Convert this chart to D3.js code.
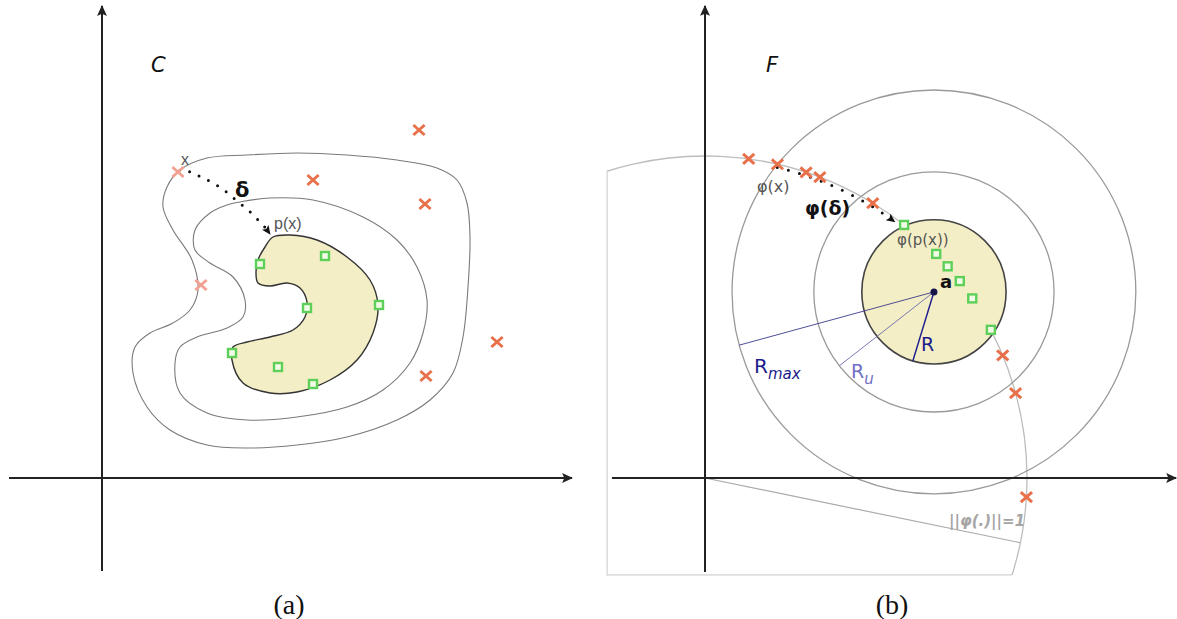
<!DOCTYPE html>
<html><head><meta charset="utf-8">
<script src="https://cdn.jsdelivr.net/npm/d3@7"></script>
<style>body{margin:0;background:#fff}svg{display:block}</style>
</head><body>
<svg id="c" width="1177" height="619"></svg>
<script>
// ---------- DATA (left panel, units relative to origin) ----------
const kidney = [[171,241],[188,243],[215,238],[245,221],[268,198],[276,173],[271,145],[255,118],[228,98],[195,86],[168,85],[141,95],[130,118],[131,131],[145,136],[168,141],[191,148],[203,161],[205,176],[198,190],[185,195],[168,192],[156,195],[154,205],[156,218],[163,231]];
const contourMid = [[138,276],[168,280],[211,278],[261,261],[295,238],[315,211],[325,178],[321,145],[308,115],[281,88],[245,71],[195,61],[145,58],[105,65],[78,85],[73,115],[78,131],[95,141],[125,150],[141,161],[143,178],[131,201],[108,215],[93,228],[93,248],[108,265],[125,273]];
const contourOut = [[105,320],[145,323],[195,325],[245,323],[295,318],[335,310],[355,298],[365,275],[368,241],[366,191],[361,141],[351,105],[328,78],[295,58],[245,41],[195,33],[145,30],[105,33],[68,48],[45,71],[31,105],[33,131],[48,145],[71,155],[88,168],[96,188],[90,218],[71,248],[61,271],[65,291],[78,308]];
const outliersL = [[317,348],[211,298],[323,274],[395,136],[324,102]];
const outliersLightL = [[76,306],[99,193]];
const inliersL = [[158,214],[223,222],[205,170],[277,173],[130,125],[176,111],[211,94]];
const deltaPath = [[77,307],[89,306],[99,301],[109,296],[119,290],[128,283],[136,276],[145,269],[153,261],[161,253],[168,244]];

// ---------- DATA (right panel, unit-circle coordinates) ----------
const centerA = [0.711, 0.578];
const radii = {R: 0.224, Ru: 0.373, Rmax: 0.627};
const radiusAngles = {R: 253, Ru: 218, Rmax: 195.3};
const outlierAnglesR = [82.2, 77.0, 71.7, 69.1, 58.6, 22.4, 15.3, -3.4];
const inlierAnglesR = [51.8, 44.1, 41.1, 37.7, 33.9, 27.4];
const dottedArcR = {from: 76.9, to: 53.5, r: 0.99};
const unitLineAngle = -11.6;
const captions = ["(a)", "(b)"];

const svg = d3.select("#c");
const rad = d => d*Math.PI/180;

// ---------- scales ----------
const xL = d3.scaleLinear().domain([0, 470]).range([102, 572]);
const yL = d3.scaleLinear().domain([0, 472]).range([478, 6]);
const xR = d3.scaleLinear().domain([0, 1]).range([705, 1027]);
const yR = d3.scaleLinear().domain([0, 1]).range([478, 156]);

// markers
const defs = svg.append("defs");
function arrowMarker(id, color, w, h){
  defs.append("marker").attr("id", id).attr("viewBox","0 -5 10 10")
    .attr("refX",9).attr("refY",0).attr("markerWidth",w).attr("markerHeight",h)
    .attr("markerUnits","userSpaceOnUse").attr("orient","auto")
    .append("path").attr("d","M0,-4.5L10,0L0,4.5L2,0Z").attr("fill",color);
}
arrowMarker("ax","#222",11,11);
arrowMarker("dt","#111",9,9);

defs.append("clipPath").attr("id","clipR").append("rect")
  .attr("x", xR(-0.304)).attr("y", 0).attr("width", 1177-xR(-0.304)).attr("height", yR(-0.301));

// ---------- LEFT PANEL ----------
const gL = svg.append("g");
const lineL = d3.line().x(d=>xL(d[0])).y(d=>yL(d[1])).curve(d3.curveCatmullRomClosed.alpha(0.5));
gL.append("path").attr("d", lineL(contourOut)).attr("fill","none").attr("stroke","#7a7a7a").attr("stroke-width",1.1);
gL.append("path").attr("d", lineL(contourMid)).attr("fill","none").attr("stroke","#7a7a7a").attr("stroke-width",1.1);
gL.append("path").attr("d", lineL(kidney)).attr("fill","#f4eec6").attr("stroke","#333").attr("stroke-width",1.4);

gL.append("line").attr("x1",xL(-93)).attr("x2",xL(470)).attr("y1",yL(0)).attr("y2",yL(0))
  .attr("stroke","#222").attr("stroke-width",2).attr("marker-end","url(#ax)");
gL.append("line").attr("x1",xL(0)).attr("x2",xL(0)).attr("y1",yL(-93)).attr("y2",yL(472))
  .attr("stroke","#222").attr("stroke-width",2).attr("marker-end","url(#ax)");

const openLine = d3.line().x(d=>xL(d[0])).y(d=>yL(d[1])).curve(d3.curveCatmullRom);
gL.append("path").attr("d", openLine(deltaPath)).attr("fill","none").attr("stroke","#111")
  .attr("stroke-width",3).attr("stroke-linecap","round").attr("stroke-dasharray","0,10.5")
  .attr("marker-end","url(#dt)");

const xPath = "M-4.5,-4L4.5,4M-4.5,4L4.5,-4";
function drawX(g, pts, sx, sy, color){
  g.selectAll(null).data(pts).join("path").attr("d", xPath)
    .attr("transform", d=>`translate(${sx(d[0])},${sy(d[1])})`)
    .attr("stroke", color).attr("stroke-width",3).attr("fill","none").attr("stroke-linecap","square");
}
function drawSq(g, pts, sx, sy){
  g.selectAll(null).data(pts).join("rect")
    .attr("x", d=>sx(d[0])-4).attr("y", d=>sy(d[1])-4).attr("width",8).attr("height",8)
    .attr("fill","#f2fbe6").attr("stroke","#5ed05a").attr("stroke-width",2.4);
}
drawX(gL, outliersL, xL, yL, "#e8714b");
drawX(gL, outliersLightL, xL, yL, "#f2a292");
drawSq(gL, inliersL, xL, yL);

gL.append("text").attr("x",xL(79)).attr("y",yL(313)).text("x")
  .attr("font-family","Liberation Sans, Arial").attr("font-size",16).attr("fill","#555");
gL.append("text").attr("x",xL(133)).attr("y",yL(281)).text("δ")
  .attr("font-family","DejaVu Sans").attr("font-size",21).attr("font-weight","bold").attr("fill","#111");
gL.append("text").attr("x",xL(172)).attr("y",yL(249)).text("p(x)")
  .attr("font-family","Liberation Sans, Arial").attr("font-size",16).attr("fill","#555");
gL.append("text").attr("x",xL(49)).attr("y",yL(406)).text("C")
  .attr("font-family","DejaVu Sans").attr("font-size",21).attr("font-style","italic").attr("fill","#111");

// ---------- RIGHT PANEL ----------
const gR = svg.append("g");
const cx0 = xR(0), cy0 = yR(0), r1 = xR(1)-xR(0);
const gClip = gR.append("g").attr("clip-path","url(#clipR)");
const pArc = d3.path();
pArc.arc(cx0, cy0, r1, -rad(179), rad(60), false);
gClip.append("path").attr("d", pArc.toString()).attr("fill","none").attr("stroke","#bdbdbd").attr("stroke-width",1.3);
const fx = -0.304, fy = -0.301;
gR.append("path").attr("d", d3.line()([[xR(fx), yR(Math.sqrt(1-fx*fx))],[xR(fx), yR(fy)],[xR(Math.sqrt(1-fy*fy)), yR(fy)]]))
  .attr("fill","none").attr("stroke","#d2d2d2").attr("stroke-width",1.2);
gR.append("line").attr("x1",xR(0)).attr("y1",yR(0))
  .attr("x2",xR(Math.cos(rad(unitLineAngle)))).attr("y2",yR(Math.sin(rad(unitLineAngle))))
  .attr("stroke","#aaa").attr("stroke-width",1.2);

const ax = xR(centerA[0]), ay = yR(centerA[1]);
["Rmax","Ru"].forEach(k=>{
  gR.append("circle").attr("cx",ax).attr("cy",ay).attr("r", xR(radii[k])-xR(0))
    .attr("fill","none").attr("stroke","#9a9a9a").attr("stroke-width",1.3);
});
gR.append("circle").attr("cx",ax).attr("cy",ay).attr("r", xR(radii.R)-xR(0))
  .attr("fill","#f4eec6").attr("stroke","#444").attr("stroke-width",1.6);

gR.append("line").attr("x1",xR(-0.289)).attr("x2",xR(1.463)).attr("y1",yR(0)).attr("y2",yR(0))
  .attr("stroke","#222").attr("stroke-width",2).attr("marker-end","url(#ax)");
gR.append("line").attr("x1",xR(0)).attr("x2",xR(0)).attr("y1",yR(-0.292)).attr("y2",yR(1.466))
  .attr("stroke","#222").attr("stroke-width",2).attr("marker-end","url(#ax)");

const radColor = {Rmax:"#3a3a8a", Ru:"#6a6aaa", R:"#1c1c8c"};
["Rmax","Ru","R"].forEach(k=>{
  const t = rad(radiusAngles[k]);
  gR.append("line").attr("x1",ax).attr("y1",ay)
    .attr("x2",xR(centerA[0]+radii[k]*Math.cos(t))).attr("y2",yR(centerA[1]+radii[k]*Math.sin(t)))
    .attr("stroke",radColor[k]).attr("stroke-width", k==="R"?1.5:0.9);
});
gR.append("circle").attr("cx",ax).attr("cy",ay).attr("r",3.5).attr("fill","#15154a");

const pD = d3.path();
const rD = (xR(dottedArcR.r)-xR(0));
pD.arc(cx0, cy0, rD, -rad(dottedArcR.from), -rad(dottedArcR.to), false);
gR.append("path").attr("d", pD.toString()).attr("fill","none").attr("stroke","#111")
  .attr("stroke-width",3).attr("stroke-linecap","round").attr("stroke-dasharray","0,11.5")
  .attr("marker-end","url(#dt)");

const onCircle = a => [Math.cos(rad(a)), Math.sin(rad(a))];
drawX(gR, outlierAnglesR.map(onCircle), xR, yR, "#e8714b");
drawSq(gR, inlierAnglesR.map(onCircle), xR, yR);

const T = (x,y,txt,o)=>{
  const t = gR.append("text").attr("x",x).attr("y",y).attr("font-family",o.font||"DejaVu Sans")
    .attr("font-size",o.size||15).attr("fill",o.fill||"#111");
  if(o.bold) t.attr("font-weight","bold");
  if(o.italic) t.attr("font-style","italic");
  t.text(txt); return t;
};
T(766, 72, "F", {size:21, italic:true});
T(757, 192, "φ(x)", {size:16, fill:"#555"});
T(805, 215, "φ(δ)", {size:19, bold:true});
T(897, 245, "φ(p(x))", {size:15, fill:"#555"});
T(940, 288, "a", {size:18, bold:true});
T(921, 351, "R", {size:19, fill:"#1c1c8c"});
const tm = T(754, 373, "R", {size:20, fill:"#1c1c8c"});
tm.append("tspan").attr("dy",6).attr("font-size",15).attr("font-style","italic").text("max");
const tu = T(851, 378, "R", {size:19, fill:"#7070c4"});
tu.append("tspan").attr("dy",6).attr("font-size",15).attr("font-style","italic").text("u");
T(949, 526, "||φ(.)||=1", {size:15, fill:"#a5a5a5", italic:true, bold:true});

svg.selectAll(".cap").data(captions).join("text").attr("class","cap")
  .attr("x",(d,i)=> i===0 ? 289 : 892).attr("y",614).attr("text-anchor","middle")
  .attr("font-family","Liberation Serif, DejaVu Serif, serif").attr("font-size",28).attr("fill","#111")
  .text(d=>d);
</script>
</body></html>
